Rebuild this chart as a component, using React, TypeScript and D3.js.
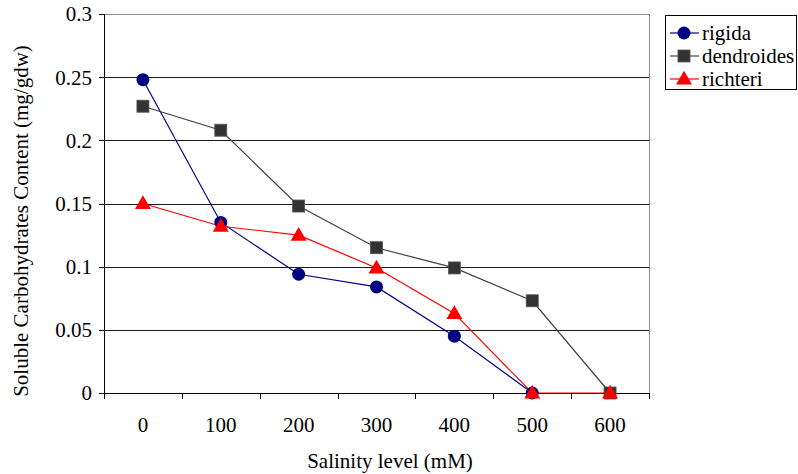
import React from "react";
import * as d3 from "d3";

const categories = ["0", "100", "200", "300", "400", "500", "600"];
const rigida: (number | null)[] = [0.248, 0.135, 0.094, 0.084, 0.045, 0, null];
const dendroides: (number | null)[] = [0.227, 0.208, 0.148, 0.115, 0.099, 0.073, 0];
const richteri: (number | null)[] = [0.15, 0.132, 0.125, 0.099, 0.063, 0, 0];
const yTicks = [0, 0.05, 0.1, 0.15, 0.2, 0.25, 0.3];
const yTickLabels = ["0", "0.05", "0.1", "0.15", "0.2", "0.25", "0.3"];
const seriesNames = ["rigida", "dendroides", "richteri"];

const W = 798, H = 474;
const M = { left: 104, right: 649, top: 14, bottom: 393 };
const FF = "Liberation Serif";
const FS = 21;

const series = [
  { name: seriesNames[0], values: rigida, color: "#000080", marker: "circle" },
  { name: seriesNames[1], values: dendroides, color: "#333333", marker: "square", lineColor: "#404040" },
  { name: seriesNames[2], values: richteri, color: "#ff0000", marker: "triangle" },
];

function Marker({ type, x, y, color }: { type: string; x: number; y: number; color: string }) {
  if (type === "circle") return <circle cx={x} cy={y} r={6.5} fill={color} />;
  if (type === "square") return <rect x={x - 6} y={y - 6} width={12} height={12} fill={color} stroke="#555" strokeWidth={0.8} />;
  const tri = d3.symbol(d3.symbolTriangle, 110)();
  return <path d={tri as string} transform={`translate(${x},${y + 1})`} fill={color} />;
}

function T(props: any) {
  const { children, ...rest } = props;
  return (
    <text fontSize={FS} fontFamily={FF} style={{ fontFamily: FF }} {...rest}>
      {children}
    </text>
  );
}

export default function App() {
  const x = d3.scaleBand<string>().domain(categories).range([M.left, M.right]);
  const y = d3.scaleLinear().domain([0, 0.3]).range([M.bottom, M.top]);
  const cx = (c: string) => (x(c) as number) + x.bandwidth() / 2;
  const line = d3
    .line<[string, number | null]>()
    .defined((d) => d[1] !== null)
    .x((d) => cx(d[0]))
    .y((d) => y(d[1] as number));

  const bounds = categories.map((c) => x(c) as number).concat([M.right]);

  return (
    <svg width={W} height={H} fontFamily={FF} style={{ position: "absolute", left: 0, top: 0, fontFamily: FF }}>
      <rect x={0} y={0} width={W} height={H} fill="#fff" />
      <line x1={M.left} x2={M.right} y1={M.top + 0.5} y2={M.top + 0.5} stroke="#8c8c8c" />
      <line x1={M.right + 0.5} x2={M.right + 0.5} y1={M.top} y2={M.bottom} stroke="#8c8c8c" />
      {yTicks.slice(1, -1).map((t) => (
        <line key={t} x1={M.left} x2={M.right} y1={Math.round(y(t)) + 0.5} y2={Math.round(y(t)) + 0.5} stroke="#1a1a1a" />
      ))}
      <line x1={M.left + 0.5} x2={M.left + 0.5} y1={M.top} y2={M.bottom} stroke="#000" />
      <line x1={M.left} x2={M.right + 1} y1={M.bottom + 0.5} y2={M.bottom + 0.5} stroke="#000" />
      {yTicks.map((t, i) => (
        <g key={t}>
          <line x1={M.left - 5} x2={M.left} y1={Math.round(y(t)) + 0.5} y2={Math.round(y(t)) + 0.5} stroke="#000" />
          <T x={M.left - 12} y={y(t)} dy="0.35em" textAnchor="end">
            {yTickLabels[i]}
          </T>
        </g>
      ))}
      {bounds.map((b, i) => (
        <line key={i} x1={Math.round(b) + 0.5} x2={Math.round(b) + 0.5} y1={M.bottom} y2={M.bottom + 6} stroke="#000" />
      ))}
      {categories.map((c) => (
        <T key={c} x={cx(c)} y={432} textAnchor="middle">
          {c}
        </T>
      ))}
      {series.map((s) => (
        <path
          key={s.name}
          d={line(categories.map((c, i) => [c, s.values[i]] as [string, number | null])) as string}
          fill="none"
          stroke={s.lineColor || s.color}
          strokeWidth={1.2}
        />
      ))}
      {series.map((s) =>
        categories.map((c, i) =>
          s.values[i] === null ? null : (
            <Marker key={s.name + c} type={s.marker} x={cx(c)} y={y(s.values[i] as number)} color={s.color} />
          )
        )
      )}
      <T x={390} y={468} textAnchor="middle">
        Salinity level (mM)
      </T>
      <T transform="translate(28,221) rotate(-90)" textAnchor="middle">
        Soluble Carbohydrates Content (mg/gdw)
      </T>
      <rect x={665.5} y={15.5} width={131} height={74} fill="#fff" stroke="#000" />
      {series.map((s, i) => {
        const ly = 33 + i * 23;
        return (
          <g key={s.name}>
            <line x1={670} x2={699} y1={ly} y2={ly} stroke={s.lineColor || s.color} strokeWidth={1.2} />
            <Marker type={s.marker} x={684} y={ly} color={s.color} />
            <T x={702} y={ly} dy="0.35em">
              {s.name}
            </T>
          </g>
        );
      })}
    </svg>
  );
}
